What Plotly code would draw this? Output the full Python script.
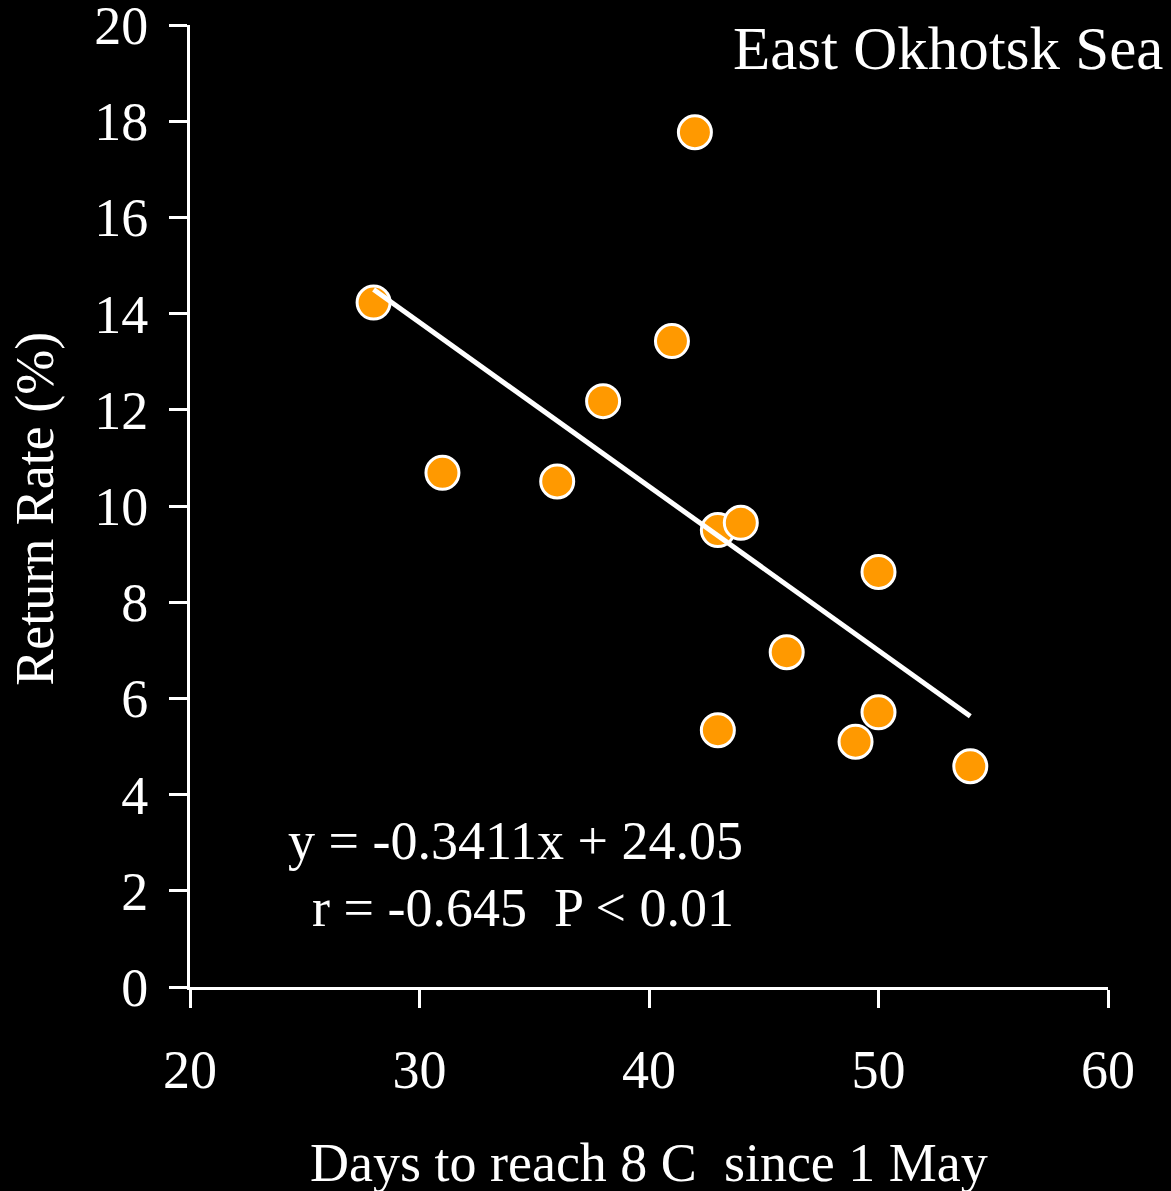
import plotly.graph_objs as go

# days to reach 8 C since 1 May vs return rate (%)
days = [28, 31, 36, 38, 41, 42, 43, 44, 43, 46, 50, 50, 49, 54]
return_rate = [14.23, 10.69, 10.51, 12.18, 13.43, 17.77, 9.50, 9.65, 5.34, 6.96, 8.63, 5.71, 5.10, 4.59]

# regression line end points
trend_x = [28, 54]
trend_y = [14.50, 5.63]

x_ticks = [20, 30, 40, 50, 60]
y_ticks = [0, 2, 4, 6, 8, 10, 12, 14, 16, 18, 20]

FONT = "Liberation Serif, Times New Roman, serif"

fig = go.Figure()

fig.add_trace(go.Scatter(
    x=days,
    y=return_rate,
    mode="markers",
    marker=dict(color="#FF9900", size=33, line=dict(color="white", width=3)),
    showlegend=False))

fig.add_trace(go.Scatter(
    x=trend_x,
    y=trend_y,
    mode="lines",
    line=dict(color="white", width=5),
    showlegend=False))

# page body has an 8px margin, so the figure is shrunk to fit
fig.layout.width = 1163
fig.layout.height = 1183
fig.layout.margin = dict(l=182, r=63, t=17, b=204)
fig.layout.plot_bgcolor = "black"
fig.layout.paper_bgcolor = "black"
fig.layout.font = dict(family=FONT, size=54, color="white")

fig.update_xaxes(
    range=[20, 60], tickvals=x_ticks, showgrid=False, zeroline=False,
    showline=True, linecolor="white", linewidth=3,
    ticks="outside", ticklen=18, tickwidth=3, tickcolor="white",
    ticklabelstandoff=15, ticklabeloverflow="allow", automargin=False)
fig.update_yaxes(
    range=[0, 20], tickvals=y_ticks, showgrid=False, zeroline=False,
    showline=True, linecolor="white", linewidth=3,
    ticks="outside", ticklen=18, tickwidth=3, tickcolor="white",
    ticklabelstandoff=10, ticklabeloverflow="allow", automargin=False)

fig.add_annotation(text="Days to reach 8 C\u00a0 since 1 May", xref="paper", yref="paper",
                   x=0.5, y=-0.183, xanchor="center", yanchor="middle", showarrow=False)
fig.add_annotation(text="Return Rate (%)", xref="paper", yref="paper", textangle=-90,
                   x=-0.169, y=0.497, xanchor="center", yanchor="middle", showarrow=False)
fig.add_annotation(text="East Okhotsk Sea", xref="paper", yref="paper",
                   x=1.062, y=0.976, xanchor="right", yanchor="middle", showarrow=False,
                   font=dict(size=61))
fig.add_annotation(text="y = -0.3411x + 24.05", x=34.2, y=3.03,
                   xanchor="center", yanchor="middle", showarrow=False)
fig.add_annotation(text="r = -0.645\u00a0 P < 0.01", x=34.5, y=1.64,
                   xanchor="center", yanchor="middle", showarrow=False)

# black page behind the figure so the body margin doesn't show white
fig.write_html("out.html", post_script="document.body.style.background='black';")
